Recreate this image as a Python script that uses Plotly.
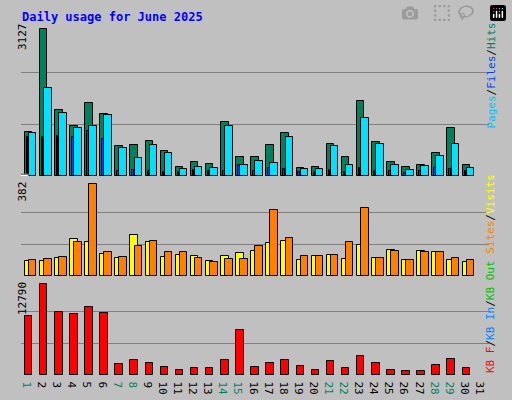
import plotly.graph_objects as go

days = list(range(1, 32))
weekend = [1, 7, 8, 14, 15, 21, 22, 28, 29]

# values (June has 30 days, slot 31 stays empty)
hits = [936, 3127, 1411, 1064, 1553, 1319, 638, 659, 744, 532, 191, 298, 255, 1149, 404,
        404, 659, 915, 170, 191, 681, 404, 1595, 723, 298, 191, 234, 489, 1021, 234]
files = [915, 1872, 1340, 1021, 1064, 1298, 596, 383, 659, 489, 149, 191, 170, 1064, 234,
         319, 277, 830, 149, 149, 638, 234, 1234, 681, 234, 128, 213, 425, 681, 170]
pages = [830, 830, 851, 830, 957, 787, 106, 128, 106, 85, 85, 128, 106, 106, 234,
         106, 170, 149, 85, 85, 128, 85, 170, 106, 106, 64, 106, 170, 149, 106]
visits = [62, 62, 74, 153, 141, 91, 74, 170, 141, 79, 87, 83, 62, 83, 95,
          103, 137, 145, 66, 83, 87, 70, 128, 74, 108, 66, 103, 99, 66, 58]
sites = [66, 70, 79, 141, 382, 99, 79, 124, 145, 99, 99, 74, 58, 70, 70,
         124, 273, 157, 83, 83, 87, 141, 281, 74, 103, 66, 99, 99, 74, 66]
kbytes = [8292, 12790, 8855, 8574, 9557, 8714, 1546, 2108, 1687, 1124, 703, 984, 984, 2108, 6325,
          1124, 1687, 2108, 1265, 703, 1968, 984, 2670, 1687, 703, 562, 562, 1406, 2249, 984]

x = days[:30]
line = dict(color="black", width=1)
fig = go.Figure()

def bar(y, color, ax, off, w):
    fig.add_trace(go.Bar(x=x, y=y, marker=dict(color=color, line=line), offset=off, width=w,
                         xaxis=ax[0], yaxis=ax[1], hoverinfo="x+y"))

bar(hits, "#00805C", ("x", "y"), -0.25, 0.5)
bar(files, "#00E0FF", ("x", "y"), 0.02, 0.5)
bar(pages, "#0040FF", ("x", "y"), -0.12, 0.1)
bar(visits, "#FFFF00", ("x2", "y2"), -0.25, 0.5)
bar(sites, "#FF8000", ("x2", "y2"), 0.02, 0.5)
bar(kbytes, "#FF0000", ("x3", "y3"), -0.25, 0.5)

xd = [21 / 512, 489 / 512]
panels = [(max(hits) * 155 / 147, [0.56, 0.9475]), (382 * 96 / 92, [0.31, 0.55]),
          (12790 * 95 / 91, [0.0625, 0.30])]
lay = {}
for i, (top, dom) in enumerate(panels):
    s = "" if i == 0 else str(i + 1)
    lay["yaxis" + s] = dict(domain=dom, range=[0, top], tickvals=[top / 3, 2 * top / 3],
                            showticklabels=False, gridcolor="#808080", gridwidth=1,
                            zeroline=False, anchor="x" + s, fixedrange=True)
    lay["xaxis" + s] = dict(domain=xd, range=[0.5, 31.5], anchor="y" + s, showgrid=False,
                            zeroline=False, showticklabels=(i == 2), ticks="", fixedrange=True)

lay["xaxis3"].update(tickvals=days, ticktext=[
    "<span style='color:#00805C'>%d</span>" % d if d in weekend else str(d) for d in days],
    tickfont=dict(family="DejaVu Sans Mono", size=11, color="black"), automargin=False)

fig.update_layout(**lay)

mono = "DejaVu Sans Mono"
fig.add_annotation(text="<b>Daily usage for June 2025</b>", x=20 / 512, y=1 - 8 / 400,
                   xref="paper", yref="paper", xanchor="left", yanchor="top", showarrow=False,
                   font=dict(family=mono, size=12, color="#0000FF"))
for lbl, ytop in [("3127", 21), ("382", 180), ("12790", 280)]:
    fig.add_annotation(text=lbl, x=14 / 512, y=1 - ytop / 400, xref="paper", yref="paper",
                       textangle=-90, yanchor="top", showarrow=False,
                       font=dict(family=mono, size=11, color="black"))

def sp(t, c):
    return "<span style='color:%s'>%s</span>" % (c, t)

fig.add_annotation(text=sp("Pages", "#00C0FF") + "/" + sp("Files", "#0040FF") + "/" + sp("Hits", "#00805C"),
                   x=499 / 512, y=0.9475, xref="paper", yref="paper",
                   textangle=-90, yanchor="top", showarrow=False,
                   font=dict(family=mono, size=11, color="black"))
fig.add_annotation(text=sp("KB F", "#FF0000") + "/" + sp("KB In", "#0080FF") + "/" +
                   sp("KB Out", "#00C000") + " " + sp("Sites", "#FF8000") + "/" + sp("Visits", "#FFFF00"),
                   x=499 / 512, y=1 - 375 / 400, xref="paper", yref="paper",
                   textangle=-90, yanchor="bottom", showarrow=False,
                   font=dict(family=mono, size=11, color="black"))

# frame and bevels
shapes = [
    dict(type="rect", x0=0, x1=1, y0=0, y1=1, line=dict(color="black", width=2)),
    dict(type="line", x0=2 / 512, x1=510 / 512, y0=1 - 3 / 400, y1=1 - 3 / 400, line=dict(color="white", width=2)),
    dict(type="line", x0=3 / 512, x1=3 / 512, y0=0.01, y1=1 - 3 / 400, line=dict(color="white", width=2)),
    dict(type="line", x0=0, x1=1, y0=5 / 400, y1=5 / 400, line=dict(color="#808080", width=5)),
    dict(type="line", x0=507 / 512, x1=507 / 512, y0=0, y1=1, line=dict(color="#808080", width=5)),
]
for top, bot in [(21, 176), (180, 276), (280, 375)]:
    y0, y1 = 1 - bot / 400, 1 - top / 400
    shapes += [
        dict(type="line", x0=xd[0], x1=xd[1], y0=y1, y1=y1, line=dict(color="black", width=2)),
        dict(type="line", x0=xd[0], x1=xd[0], y0=y0, y1=y1, line=dict(color="black", width=2)),
        dict(type="line", x0=xd[0], x1=xd[1], y0=y0, y1=y0, line=dict(color="white", width=2)),
        dict(type="line", x0=xd[1], x1=xd[1], y0=y0, y1=y1, line=dict(color="white", width=2)),
    ]

fig.update_layout(width=512, height=400, margin=dict(l=0, r=0, t=0, b=0),
                  paper_bgcolor="#C0C0C0", plot_bgcolor="#C0C0C0", barmode="overlay",
                  showlegend=False, shapes=shapes, bargap=0)
fig.write_html("out.html", post_script="document.body.style.margin='0';")
